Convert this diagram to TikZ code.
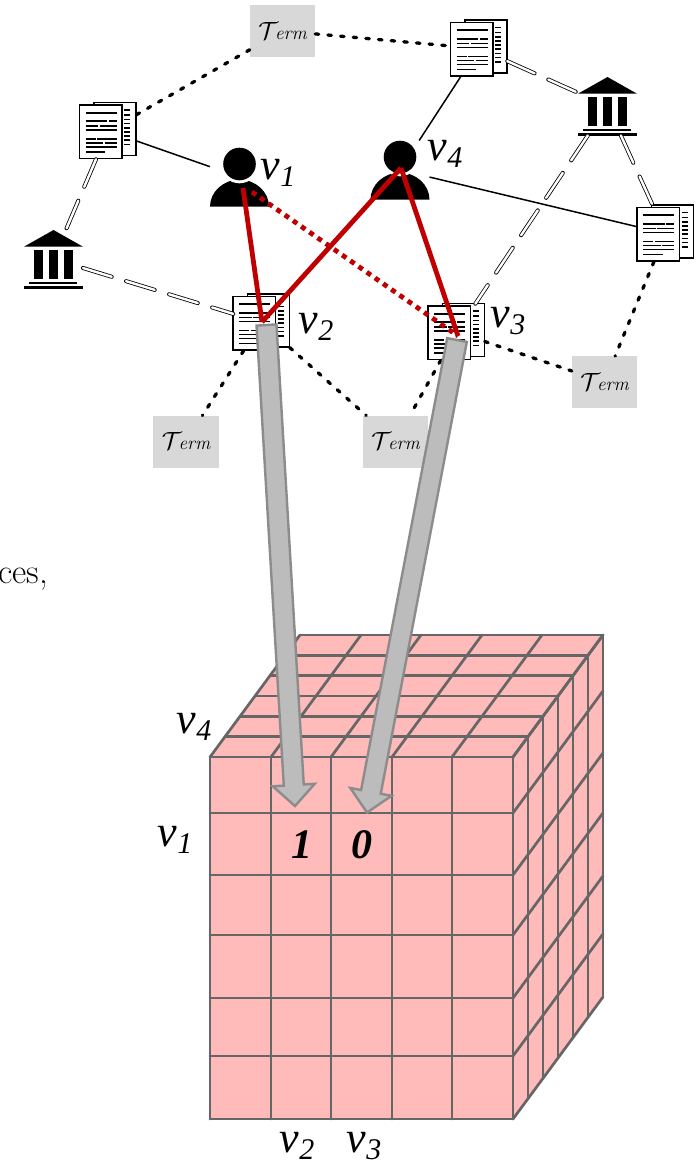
\documentclass[tikz,border=0pt]{standalone}
\usepackage{fontspec}
\usetikzlibrary{calc}
\newfontfamily\timesf{Liberation Serif}
\definecolor{cubefill}{HTML}{FFBABA}
\definecolor{cubeline}{HTML}{666666}
\definecolor{termbg}{HTML}{D8D8D8}
\definecolor{redline}{HTML}{C00000}
\definecolor{arrowfill}{HTML}{BCBCBC}
\definecolor{arrowline}{HTML}{8C8C8C}
\tikzset{
  iconbox/.style={rectangle,inner sep=0pt,outer sep=0pt,minimum width=#1,minimum height=#1},
  termbox/.style={rectangle,fill=termbg,inner sep=0pt,outer sep=0pt,minimum width=65.5pt,minimum height=52pt,
     font=\fontsize{19}{19}\selectfont\itshape},
  dottededge/.style={line width=3.3pt,line cap=round,dash pattern=on 3.5pt off 9.2pt},
  doubleedge/.style={line width=0.8pt,double=white,double distance=2.4pt,line cap=round,dash pattern=on 30pt off 15pt},
  thinedge/.style={line width=1.5pt},
  rededge/.style={draw=redline,line width=4.8pt},
  reddots/.style={draw=redline,line width=4.8pt,dash pattern=on 5pt off 5pt},
  cubegrid/.style={draw=cubeline,line width=2.7pt,line cap=round,line join=round},
  bigarrow/.style={fill=arrowfill,draw=arrowline,line width=2.4pt,line join=miter},
  vlabel/.style={inner sep=0pt,outer sep=0pt},
}
\newcommand{\vlab}[1]{{\timesf\itshape\fontsize{44}{44}\selectfont v\raisebox{-7pt}{\fontsize{30}{30}\selectfont #1}}}
\newcommand{\termtext}{{\fontsize{28}{28}\selectfont$\mathcal{T}$}\kern-3pt erm}
\newcommand{\docicon}[3]{%
  \node[iconbox=56.5pt] (#1) at (#2,#3) {};
  \begin{scope}[shift={(#2,#3)}]
    \draw[fill=white,line width=1.7pt] (-14,-28.5) rectangle (28,24.5);
    \foreach \yy in {-21,-16,-11.7,-7.7,-3.3,0.7,5,9,13.3}
      \draw[line width=1.6pt] (16,\yy) -- (22,\yy);
    \draw[fill=white,line width=1.7pt] (-28.5,-26) rectangle (14,27.5);
    \draw[line width=1.7pt] (-22.5,-18.3) -- (8.5,-18.3);
    \draw[line width=1.7pt] (-22.5,-9.7) -- (-1,-9.7) (0.5,-9.7) -- (8.5,-9.7);
    \draw[line width=1.7pt] (-22.5,-5) -- (-10,-5) (-8.5,-5) -- (8.5,-5);
    \draw[line width=1.7pt] (-22.5,-1) -- (8.5,-1);
    \draw[line width=1.7pt] (-22.5,8) -- (-12.5,8) (-11,8) -- (8.5,8);
    \draw[line width=1.7pt] (-22.5,12) -- (-5,12) (-3.5,12) -- (8.5,12);
    \draw[line width=1.7pt] (-22.5,16) -- (8.5,16);
    \draw[line width=1.7pt] (-22.5,21) -- (-3,21);
  \end{scope}}
\newcommand{\bankicon}[3]{%
  \node[iconbox=59pt] (#1) at (#2,#3) {};
  \begin{scope}[shift={(#2,#3)}]
    \fill (0,-29) -- (29.5,-12.3) -- (-29.5,-12.3) -- cycle;
    \fill (-19.2,-9) rectangle (-10.2,20.3);
    \fill (-4.2,-9) rectangle (4.2,20.3);
    \fill (10.5,-9) rectangle (19.2,20.3);
    \fill (-24.2,22.7) rectangle (23.8,25);
    \fill (-29.5,27) rectangle (29.2,29.7);
  \end{scope}}
\newcommand{\personicon}[3]{%
  \node[iconbox=59pt] (#1) at (#2,#3) {};
  \begin{scope}[shift={(#2,#3)}]
    \fill (-29.5,29.7) arc[start angle=180,end angle=0,x radius=29.5pt,y radius=27pt] -- cycle;
    \fill[white] (0,-13) circle[radius=19.3pt];
    \fill (0,-13) circle[radius=16.3pt];
  \end{scope}}
\newcommand{\grayarrow}[2]{%
  \draw[bigarrow]
    ($(#1)!10pt!90:(#2)$) --
    ($($(#2)!21pt!(#1)$)!10pt!90:(#2)$) --
    ($($(#2)!21pt!(#1)$)!21pt!90:(#2)$) --
    (#2) --
    ($($(#2)!21pt!(#1)$)!21pt!-90:(#2)$) --
    ($($(#2)!21pt!(#1)$)!10pt!-90:(#2)$) --
    ($(#1)!10pt!-90:(#2)$) -- cycle;}
\begin{document}
\begin{tikzpicture}[x=1pt,y=-1pt]
\useasboundingbox (0,0) rectangle (700,1164);
\node[anchor=base east,inner sep=0pt] (cut) at (48,583) {\fontsize{35}{35}\selectfont ces,};
% cube
\fill[cubefill] (210,757) -- (298,635) -- (603,635) -- (603,997) -- (513,1119) -- (210,1119) -- cycle;
\foreach \xx in {210,271,331,392,452,513} {
  \draw[cubegrid] (\xx,757) -- (\xx,1119);
  \draw[cubegrid] (\xx,757) -- ++(90,-122);
}
\foreach \yy in {757,813,875,935,998,1056,1119} {
  \draw[cubegrid] (210,\yy) -- (513,\yy);
  \draw[cubegrid] (513,\yy) -- ++(90,-122);
}
\foreach \k in {1,...,6} {
  \draw[cubegrid] ({210+15*\k},{757-20.33*\k}) -- ({513+15*\k},{757-20.33*\k});
  \draw[cubegrid] ({513+15*\k},{757-20.33*\k}) -- ({513+15*\k},{1119-20.33*\k});
}
% nodes
\node[termbox] (t1) at (282.5,31) {\termtext};
\node[termbox] (t2) at (186,441.5) {\termtext};
\node[termbox] (t3) at (395.5,441.5) {\termtext};
\node[termbox] (t4) at (604.5,382) {\termtext};
\docicon{da}{108}{131}
\docicon{db}{479}{48.5}
\docicon{dc}{665.5}{233.5}
\docicon{dv}{261.5}{322.5}
\docicon{dw}{456.5}{332}
\bankicon{ba}{53.5}{259}
\bankicon{bb}{607.5}{106}
\personicon{pa}{239.5}{177}
\personicon{pb}{400}{170}
% edges
\draw[dottededge] (t1) -- (da);
\draw[dottededge] (t1) -- (db);
\draw[dottededge] (dv) -- (t2);
\draw[dottededge] (dv) -- (t3);
\draw[dottededge] (dw) -- (t3);
\draw[dottededge] (dw) -- (t4);
\draw[dottededge] (dc) -- (t4);
\draw[doubleedge] (da) -- (ba);
\draw[doubleedge] (ba) -- (dv);
\draw[doubleedge] (db) -- (bb);
\draw[doubleedge] (bb) -- (dw);
\draw[doubleedge] (bb) -- (dc);
\draw[thinedge] (da) -- (pa);
\draw[thinedge] (db) -- (pb);
\draw[thinedge] (pb) -- (dc);
% red paths
\coordinate (ra) at (243,188);
\coordinate (rb) at (252,192);
\coordinate (rc) at (401,168);
\coordinate (rd) at (262,322);
\coordinate (re) at (458,336);
\draw[rededge] (ra) -- (rd);
\draw[rededge] (rc) -- (rd);
\draw[rededge] (rc) -- (re);
\draw[reddots] (rb) -- (re);
% big arrows
\coordinate (aa) at (266.5,325);
\coordinate (ab) at (295,806);
\coordinate (ac) at (457,340);
\coordinate (ad) at (367,812.5);
\grayarrow{aa}{ab}
\grayarrow{ac}{ad}
% labels
\node[vlabel] (l1) at (278,173) {\vlab{1}};
\node[vlabel] (l4) at (445,154) {\vlab{4}};
\node[vlabel] (l2) at (316,327) {\vlab{2}};
\node[vlabel] (l3) at (508,321) {\vlab{3}};
\node[vlabel] (c4) at (194,727) {\vlab{4}};
\node[vlabel] (c1) at (175,840) {\vlab{1}};
\node[vlabel] (c2) at (297,1146) {\vlab{2}};
\node[vlabel] (c3) at (364,1146) {\vlab{3}};
\node[vlabel] (n1) at (302,845) {\timesf\bfseries\itshape\fontsize{42}{42}\selectfont 1};
\node[vlabel] (n0) at (362,845) {\timesf\bfseries\itshape\fontsize{42}{42}\selectfont 0};
\end{tikzpicture}
\end{document}
